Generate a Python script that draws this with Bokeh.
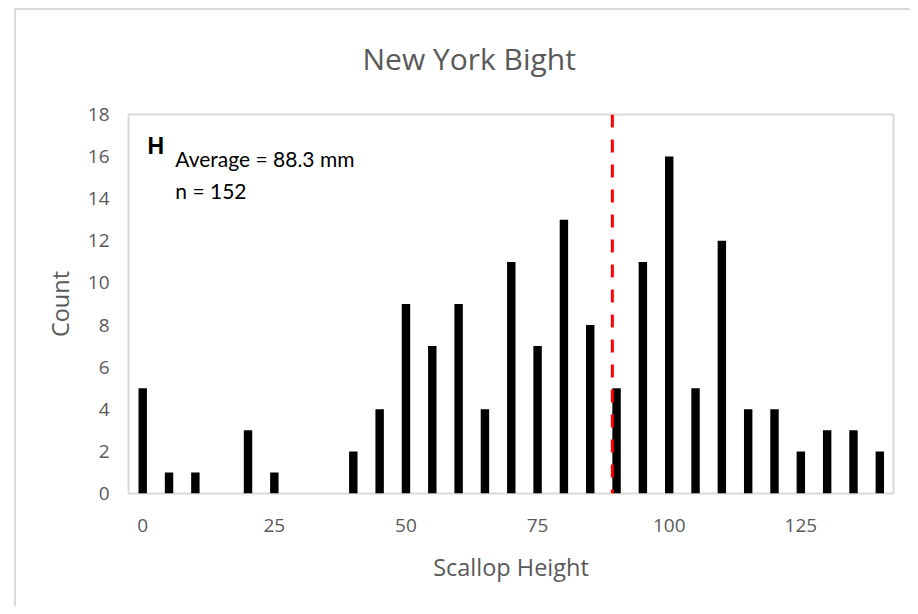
from bokeh.plotting import figure
from bokeh.models import Range1d, FixedTicker, Span, Label
from bokeh.embed import file_html
from bokeh.resources import INLINE

# Data
heights = [0, 5, 10, 15, 20, 25, 30, 35, 40, 45, 50, 55, 60, 65, 70,
           75, 80, 85, 90, 95, 100, 105, 110, 115, 120, 125, 130, 135, 140]
counts = [5, 1, 1, 0, 3, 1, 0, 0, 2, 4, 9, 7, 9, 4, 11,
          7, 13, 8, 5, 11, 16, 5, 12, 4, 4, 2, 3, 3, 2]
x_ticks = [0, 25, 50, 75, 100, 125]
y_ticks = [0, 2, 4, 6, 8, 10, 12, 14, 16, 18]
mean_line_x = 89.2
panel_letter = "H"
avg_text = "Average = 88.3 mm"
n_text = "n = 152"

GREY = "#595959"
FRAME = "#d9d9d9"

p = figure(width=910, height=606, output_backend="svg", toolbar_location=None,
           x_range=Range1d(-2.7, 142.6), y_range=Range1d(0, 18),
           min_border_left=128, min_border_right=17, min_border_top=114,
           min_border_bottom=113)

p.title.text = "New York Bight"
p.title.align = "left"
p.title.offset = 234
p.title.text_font = "Open Sans"
p.title.text_font_size = "30px"
p.title.text_font_style = "normal"
p.title.text_color = GREY
p.title.standoff = 71

p.styles = {"background": "linear-gradient(#d9d9d9,#d9d9d9) 14px 8px / 2px 100% no-repeat, "
                          "linear-gradient(#d9d9d9,#d9d9d9) 14px 8px / 100% 2px no-repeat, white"}
p.border_fill_color = None
p.background_fill_color = "white"
p.outline_line_color = FRAME
p.outline_line_width = 2

p.xgrid.visible = False
p.ygrid.visible = False

p.vbar(x=heights, top=counts, width=1.6, fill_color="black", line_color=None)

p.add_layout(Span(location=mean_line_x, dimension="height", line_color="#ff0000",
                  line_width=3, line_dash="13 12"))

for ax in (p.xaxis[0], p.yaxis[0]):
    ax.axis_line_color = None
    ax.major_tick_line_color = None
    ax.minor_tick_line_color = None
    ax.major_tick_out = 0
    ax.major_tick_in = 0
    ax.major_label_text_font = "Open Sans"
    ax.major_label_text_font_size = "19px"
    ax.major_label_text_color = GREY
    ax.axis_label_text_font = "Open Sans"
    ax.axis_label_text_font_size = "23.5px"
    ax.axis_label_text_font_style = "normal"
    ax.axis_label_text_color = GREY

p.xaxis.ticker = FixedTicker(ticks=x_ticks)
p.yaxis.ticker = FixedTicker(ticks=y_ticks)
p.xaxis.axis_label = "Scallop Height"
p.yaxis.axis_label = "Count"
p.xaxis.major_label_standoff = 25
p.xaxis.axis_label_standoff = 16
p.yaxis.major_label_standoff = 19
p.yaxis.axis_label_standoff = 9

p.add_layout(Label(x=0.9, y=16.5, text=panel_letter, text_font="Liberation Sans",
                   text_font_style="bold", text_font_size="23px", text_color="black",
                   text_baseline="middle"))
p.add_layout(Label(x=6.2, y=15.9, text=avg_text, text_font="Lato",
                   text_font_size="21px", text_color="black", text_baseline="middle"))
p.add_layout(Label(x=6.2, y=14.4, text=n_text, text_font="Lato",
                   text_font_size="21px", text_color="black", text_baseline="middle"))

open("out.html", "w").write(file_html(p, INLINE))
